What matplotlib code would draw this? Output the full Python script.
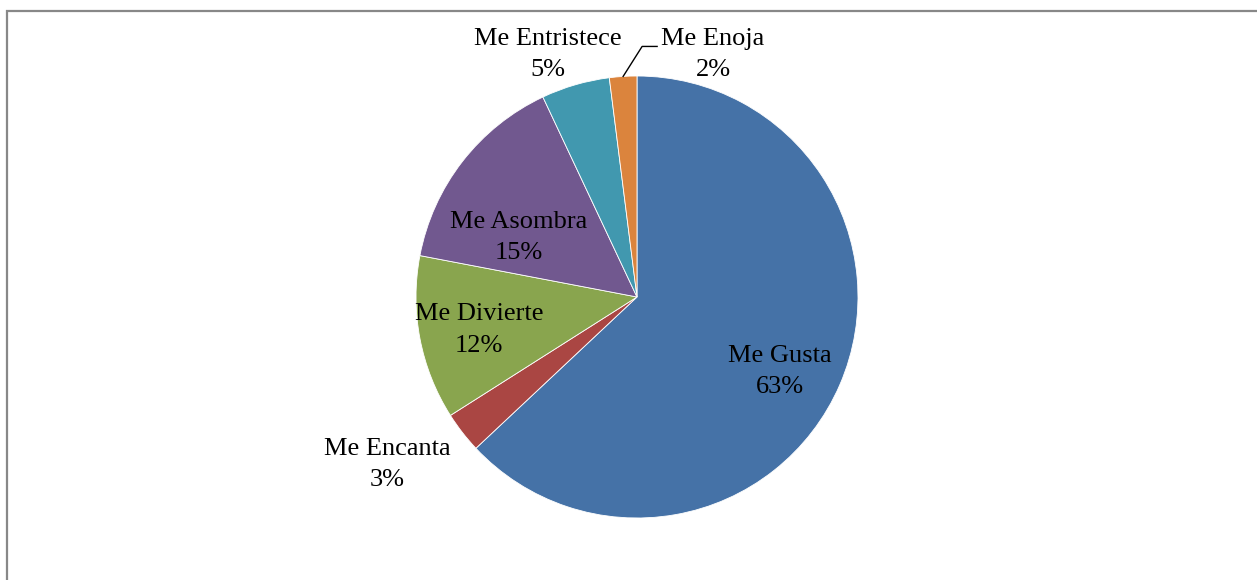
import numpy as np
import matplotlib.pyplot as plt
from matplotlib.patches import Rectangle

# slice data, clockwise from 12 o'clock
categories = ['Me Gusta', 'Me Encanta', 'Me Divierte', 'Me Asombra', 'Me Entristece', 'Me Enoja']
percents = [63, 3, 12, 15, 5, 2]
colors = ['#4572A7', '#AA4643', '#89A54E', '#71588F', '#4198AF', '#DB843D']

# label placement (fraction of radius, angle offset in degrees)
label_r = [0.73, 1.36, 0.73, 0.60, 1.17, 1.15]
label_dang = [-4, -4, 1, 11, 4, -21]

W, H = 1257, 580
cx, cy, R = 637, H - 297, 221

fig = plt.figure(figsize=(W / 100, H / 100), dpi=100)
ax = fig.add_axes([0, 0, 1, 1])
ax.axis('off')

wedges, _ = ax.pie(percents, colors=colors, startangle=90, counterclock=False,
                   center=(cx, cy), radius=R,
                   wedgeprops=dict(edgecolor='white', linewidth=0.6))
ax.set_xlim(0, W)
ax.set_ylim(0, H)
ax.set_aspect('equal')

font = dict(family='Liberation Serif', size=19, color='black')
for w, cat, p, lr, da in zip(wedges, categories, percents, label_r, label_dang):
    mid = (w.theta1 + w.theta2) / 2
    a = np.deg2rad(mid + da)
    x = cx + lr * R * np.cos(a)
    y = cy + lr * R * np.sin(a)
    ax.text(x, y, f'{cat}\n{p}%', ha='center', va='center', linespacing=1.55, **font)
    if cat == 'Me Enoja':
        # leader line from the slice to its label
        m = np.deg2rad(mid)
        x0, y0 = cx + R * np.cos(m), cy + R * np.sin(m)
        x1, y1 = x0 + 19, y0 + 30
        ax.plot([x0, x1, x1 + 15], [y0, y1, y1], color='black', lw=1.0)

# outer chart frame (cut off at right and bottom)
ax.add_patch(Rectangle((7, -20), W + 20, H - 11 + 20, fill=False,
                       edgecolor='#888888', linewidth=1.6, clip_on=True))

fig.savefig('out.png', dpi=100)
